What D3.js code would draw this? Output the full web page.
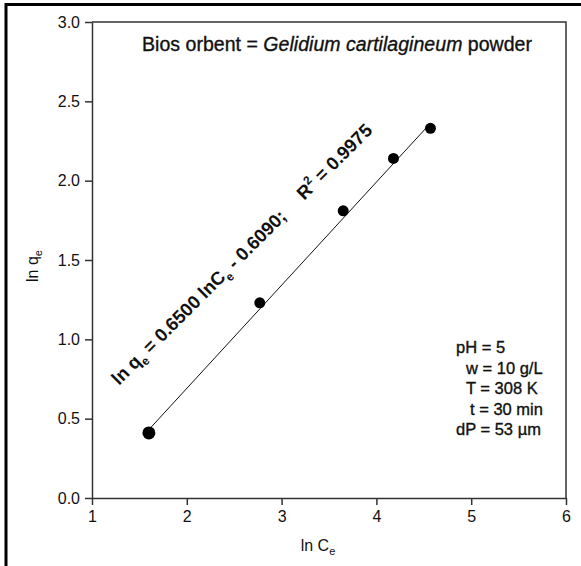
<!DOCTYPE html>
<html lang="en">
<head>
    <meta charset="UTF-8">
    <title>ln qe vs ln Ce</title>
    <script src="https://d3js.org/d3.v7.min.js"></script>
    <style>
        body { margin: 0; background: #fff; }
        text { font-family: Arial, "Liberation Sans", sans-serif; fill: #111; }
        .axis path, .axis line { stroke: #333; stroke-width: 1.5; }
        .axis text { font-size: 16px; }
        .heavy { stroke: #111; stroke-width: 0.35px; }
    </style>
</head>
<body>
    <svg id="chart"></svg>

    <script>
        // data
        var lnCe = [1.60, 2.77, 3.65, 4.18, 4.57];
        var lnQe = [0.41, 1.23, 1.81, 2.14, 2.33];
        var fitSlope = 0.6500;
        var fitIntercept = -0.6090;
        var xTicks = [1, 2, 3, 4, 5, 6];
        var yTicks = [0.0, 0.5, 1.0, 1.5, 2.0, 2.5, 3.0];
        var conditions = ["pH = 5", "w = 10 g/L", "T = 308 K", "t = 30 min", "dP = 53 \u00b5m"];

        var width = 581, height = 566;
        var margin = { left: 92, top: 22, right: 15, bottom: 68 };

        var svg = d3.select("#chart")
            .attr("width", width)
            .attr("height", height);

        // outer frame (only top and left visible)
        svg.append("line").attr("x1", 6).attr("x2", width).attr("y1", 4.5).attr("y2", 4.5)
            .attr("stroke", "#000").attr("stroke-width", 3);
        svg.append("line").attr("x1", 6).attr("x2", 6).attr("y1", 3).attr("y2", height)
            .attr("stroke", "#000").attr("stroke-width", 3);

        var x = d3.scaleLinear().domain([1, 6]).range([margin.left, width - margin.right]);
        var y = d3.scaleLinear().domain([0, 3]).range([height - margin.bottom, margin.top]);

        // top and right frame
        svg.append("path")
            .attr("d", "M" + x(1) + "," + y(3) + "H" + x(6) + "V" + y(0))
            .attr("fill", "none").attr("stroke", "#333").attr("stroke-width", 1.5);

        svg.append("g")
            .attr("class", "axis")
            .attr("transform", "translate(0," + y(0) + ")")
            .call(d3.axisBottom(x).tickValues(xTicks).tickFormat(d3.format("d")).tickSize(7).tickSizeOuter(0).tickPadding(6));

        svg.append("g")
            .attr("class", "axis")
            .attr("transform", "translate(" + x(1) + ",0)")
            .call(d3.axisLeft(y).tickValues(yTicks).tickFormat(d3.format(".1f")).tickSize(7).tickSizeOuter(0).tickPadding(5));

        // axis titles
        var xt = svg.append("text").attr("x", 318).attr("y", 551).attr("text-anchor", "middle").style("font-size", "16px");
        xt.append("tspan").text("ln C");
        xt.append("tspan").attr("dy", 4).style("font-size", "11px").text("e");

        var yt = svg.append("text").attr("transform", "translate(38,266) rotate(-90)")
            .attr("text-anchor", "middle").style("font-size", "16px");
        yt.append("tspan").text("ln q");
        yt.append("tspan").attr("dy", 4).style("font-size", "11px").text("e");

        // title inside the plot
        var tt = svg.append("text").attr("class", "heavy").attr("x", 337).attr("y", 51).attr("text-anchor", "middle")
            .style("font-size", "19.5px").attr("textLength", 390);
        tt.append("tspan").text("Bios orbent = ");
        tt.append("tspan").style("font-style", "italic").text("Gelidium cartilagineum");
        tt.append("tspan").text(" powder");

        // fitted line
        var x0 = d3.min(lnCe), x1 = d3.max(lnCe);
        svg.append("line")
            .attr("x1", x(x0)).attr("y1", y(fitSlope * x0 + fitIntercept))
            .attr("x2", x(x1)).attr("y2", y(fitSlope * x1 + fitIntercept))
            .attr("stroke", "#111").attr("stroke-width", 1);

        // points
        svg.selectAll(".pt")
            .data(lnCe)
            .enter().append("circle")
            .attr("class", "pt")
            .attr("cx", function(d) { return x(d); })
            .attr("cy", function(d, i) { return y(lnQe[i]); })
            .attr("r", function(d, i) { return i === 0 ? 6.5 : 5.5; })
            .attr("fill", "#000");

        // equation along the line
        var eq = svg.append("text")
            .attr("transform", "translate(119,386) rotate(-45)")
            .attr("text-anchor", "start")
            .style("font-size", "18.5px").style("font-weight", "bold");
        eq.append("tspan").text("ln q");
        eq.append("tspan").attr("dy", 5).style("font-size", "12px").text("e");
        eq.append("tspan").attr("dy", -5).text(" = " + fitSlope.toFixed(4) + " lnC");
        eq.append("tspan").attr("dy", 5).style("font-size", "12px").text("e");
        eq.append("tspan").attr("dy", -5).text(" - " + Math.abs(fitIntercept).toFixed(4) + ";");
        eq.append("tspan").attr("dx", 24).text("R");
        eq.append("tspan").attr("dy", -8).style("font-size", "12px").text("2");
        eq.append("tspan").attr("dy", 8).text(" = 0.9975");

        // experimental conditions
        var condX = [456, 466, 466, 470, 456];
        svg.selectAll(".cond")
            .data(conditions)
            .enter().append("text")
            .attr("class", "cond heavy")
            .attr("x", function(d, i) { return condX[i]; })
            .attr("y", function(d, i) { return 353 + i * 20.5; })
            .style("font-size", "16.5px")
            .text(function(d) { return d; });
    </script>
</body>
</html>
